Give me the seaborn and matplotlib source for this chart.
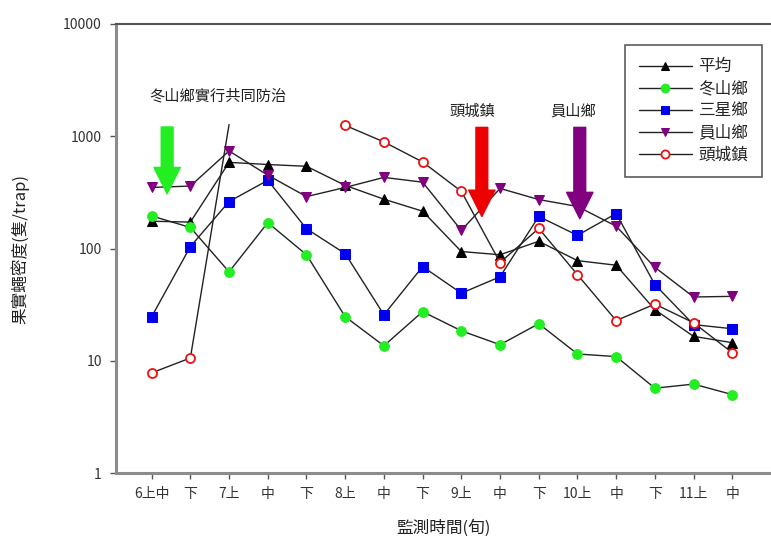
import numpy as np
import pandas as pd
import matplotlib
matplotlib.use('Agg')
import matplotlib.pyplot as plt
import seaborn as sns

sns.set_style("white")
plt.rcParams['font.family'] = ['Noto Sans CJK TC', 'DejaVu Sans']

# x categories (旬)
periods = ['6上中', '下', '7上', '中', '下', '8上', '中', '下',
           '9上', '中', '下', '10上', '中', '下', '11上', '中']

# series values
avg = [175, 172, 585, 560, 540, 365, 275, 215, 94, 88, 116, 78, 71, 28.5, 16.5, 14.5]
dongshan = [195, 154, 62, 170, 88, 24.7, 13.6, 27.4, 18.5, 13.9, 21.4, 11.5, 10.9, 5.7, 6.2, 5.0]
sanxing = [24.7, 104, 262, 405, 150, 90, 25.7, 69, 40, 56, 193, 131, 205, 47.7, 21, 19.3]
yuanshan = [350, 360, 740, 450, 290, 350, 430, 390, 145, 343, 273, 237, 158, 68, 37, 37.5]
toucheng = [7.8, 10.6, 1270, np.nan, np.nan, 1250, 890, 590, 323, 75, 151, 58.5, 22.8, 32, 21.8, 11.8]

x = np.arange(len(periods))

fig = plt.figure(figsize=(7.71, 5.45), dpi=100)
ax = fig.add_axes([0.150, 0.132, 0.850, 0.824])

line_kw = dict(color='#222222', linewidth=1.0, estimator=None, sort=False, ax=ax)
ms = 7

sns.lineplot(x=x, y=avg, marker='^', markersize=ms, markerfacecolor='black',
             markeredgecolor='black', label='平均', **line_kw)
sns.lineplot(x=x, y=dongshan, marker='o', markersize=ms, markerfacecolor='#22ee22',
             markeredgecolor='#22ee22', label='冬山鄉', **line_kw)
sns.lineplot(x=x, y=sanxing, marker='s', markersize=ms, markerfacecolor='#0000ee',
             markeredgecolor='#0000ee', label='三星鄉', **line_kw)
sns.lineplot(x=x, y=yuanshan, marker='v', markersize=ms, markerfacecolor='#800080',
             markeredgecolor='#800080', label='員山鄉', **line_kw)

# 頭城鎮: two segments (gap in the data), no marker at the clipped 7上 point
tc = pd.Series(toucheng)
seg1 = tc.iloc[:3]
seg2 = tc.iloc[5:]
sns.lineplot(x=x[:3], y=seg1.values, marker='o', markersize=6.5, markerfacecolor='white',
             markeredgecolor='#ee1111', markeredgewidth=1.3, markevery=[0, 1],
             **line_kw)
sns.lineplot(x=x[5:], y=seg2.values, marker='o', markersize=6.5, markerfacecolor='white',
             markeredgecolor='#ee1111', markeredgewidth=1.3, label='頭城鎮', **line_kw)

ax.set_yscale('log')
ax.set_ylim(1, 10000)
ax.set_xlim(-0.93, 16.0)
ax.set_yticks([1, 10, 100, 1000, 10000])
ax.set_yticklabels(['1', '10', '100', '1000', '10000'])
ax.yaxis.set_minor_locator(matplotlib.ticker.NullLocator())
ax.set_xticks(x)
ax.set_xticklabels(periods)
ax.tick_params(axis='both', which='major', direction='out', length=4, width=1,
               color='#555555', labelsize=10, labelcolor='#333333', pad=6)
ax.tick_params(left=True, bottom=True)

ax.set_xlabel('監測時間(旬)', fontsize=12, labelpad=13, color='#222222')
ax.set_ylabel('果實蠅密度(隻/trap)', fontsize=12, labelpad=24, color='#222222')

for side in ['left', 'bottom']:
    ax.spines[side].set_color('#8c8c8c')
    ax.spines[side].set_linewidth(2.2)
ax.spines['top'].set_color('#555555')
ax.spines['top'].set_linewidth(1.5)
ax.spines['right'].set_visible(False)

# arrows and notes
arrow_kw = dict(arrowstyle='simple,head_width=1.9,head_length=1.9,tail_width=0.85')
ax.annotate('', xy=(0.4, 290), xytext=(0.4, 1280),
            arrowprops=dict(color='#22ee22', **arrow_kw))
ax.annotate('', xy=(8.53, 182), xytext=(8.53, 1270),
            arrowprops=dict(color='#ee0000', **arrow_kw))
ax.annotate('', xy=(11.06, 174), xytext=(11.06, 1270),
            arrowprops=dict(color='#800080', **arrow_kw))
ax.text(1.7, 2280, '冬山鄉實行共同防治', ha='center', va='center', fontsize=11, color='#222222')
ax.text(8.27, 1670, '頭城鎮', ha='center', va='center', fontsize=11, color='#222222')
ax.text(10.88, 1670, '員山鄉', ha='center', va='center', fontsize=11, color='#222222')

leg = ax.legend(loc='upper right', bbox_to_anchor=(0.986, 0.953), frameon=True,
                fancybox=False, edgecolor='#333333', fontsize=12, handlelength=3.2,
                borderpad=0.8, labelspacing=0.3, handletextpad=0.4, markerscale=0.9,
                borderaxespad=0.0)
leg.get_frame().set_linewidth(1.2)

plt.savefig('out.png', dpi=100)
